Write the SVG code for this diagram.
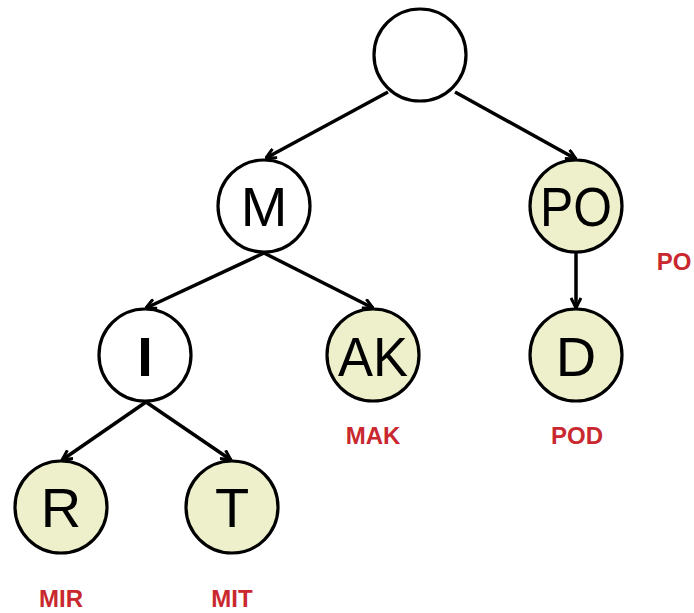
<svg xmlns="http://www.w3.org/2000/svg" width="694" height="613" viewBox="0 0 694 613">
<style>
.n{stroke:#000;stroke-width:3.2;fill:#fff}
.y{fill:#eef0cc}
.t{font-family:"Liberation Sans",Arial,sans-serif;font-size:56px;fill:#000;text-anchor:middle}
.l{font-family:"Liberation Sans",Arial,sans-serif;font-size:24px;font-weight:bold;fill:#c8282e;text-anchor:middle}
.e{stroke:#000;stroke-width:3.5;fill:none;marker-end:url(#a)}
</style>
<defs>
<marker id="a" viewBox="0 0 12 12" refX="11" refY="6" markerWidth="12" markerHeight="12" markerUnits="userSpaceOnUse" orient="auto">
<path d="M1,1 L11,6 L1,11" fill="none" stroke="#000" stroke-width="3"/>
</marker>
</defs>
<g id="connectors">
<line class="e" x1="388" y1="92" x2="266" y2="158"/>
<line class="e" x1="455" y1="92" x2="576" y2="159"/>
<line class="e" x1="264" y1="253" x2="146" y2="308"/>
<line class="e" x1="264" y1="253" x2="373" y2="308"/>
<line class="e" x1="576" y1="253" x2="576" y2="308"/>
<line class="e" x1="146" y1="402" x2="62" y2="460"/>
<line class="e" x1="146" y1="402" x2="231" y2="460"/>
</g>
<g id="root"><circle class="n" cx="420" cy="55" r="46"/></g>
<g id="M"><circle class="n" cx="264" cy="206" r="46"/><text class="t" x="264" y="226">M</text></g>
<g id="PO"><circle class="n y" cx="576" cy="206" r="46"/><text class="t" x="576" y="226" textLength="72" lengthAdjust="spacingAndGlyphs">PO</text><text class="l" x="674" y="270">PO</text></g>
<g id="I"><circle class="n" cx="145" cy="355" r="46"/><text class="t" x="145" y="376" style="font-weight:bold">I</text></g>
<g id="AK"><circle class="n y" cx="373" cy="355" r="46"/><text class="t" x="373" y="376" textLength="70" lengthAdjust="spacingAndGlyphs">AK</text><text class="l" x="373" y="444">MAK</text></g>
<g id="D"><circle class="n y" cx="576" cy="355" r="46"/><text class="t" x="576" y="376">D</text><text class="l" x="577" y="444">POD</text></g>
<g id="R"><circle class="n y" cx="61" cy="507" r="46"/><text class="t" x="61" y="527">R</text><text class="l" x="61" y="607">MIR</text></g>
<g id="T"><circle class="n y" cx="232" cy="507" r="46"/><text class="t" x="232" y="527">T</text><text class="l" x="232" y="607">MIT</text></g>
</svg>
